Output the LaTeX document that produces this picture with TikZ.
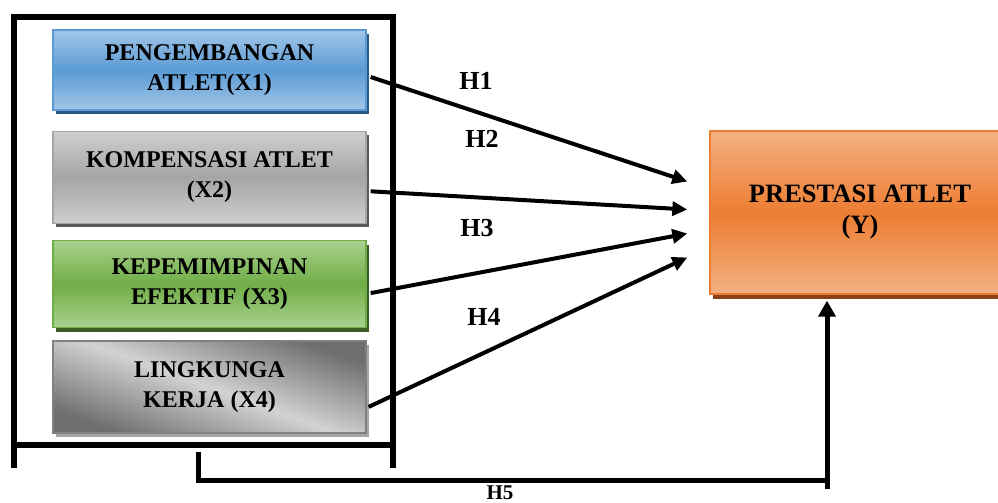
\documentclass[tikz,border=0pt]{standalone}
\usepackage{fontspec}
\setmainfont{Liberation Serif}
\usetikzlibrary{positioning,shadows,arrows.meta}

\definecolor{xonelight}{HTML}{A2C6E8}
\definecolor{xonemid}{HTML}{5B9BD5}
\definecolor{xoneshadow}{HTML}{2B5A86}
\definecolor{xtwolight}{HTML}{CFCFCF}
\definecolor{xtwomid}{HTML}{A5A5A5}
\definecolor{xtwoshadow}{HTML}{595959}
\definecolor{xthreelight}{HTML}{A9D18E}
\definecolor{xthreemid}{HTML}{70AD47}
\definecolor{xthreeshadow}{HTML}{3B5E25}
\definecolor{xfourdark}{HTML}{6E6E6E}
\definecolor{xfourlight}{HTML}{D2D2D2}
\definecolor{ylight}{HTML}{F4B183}
\definecolor{ymid}{HTML}{ED7D31}
\definecolor{yshadow}{HTML}{8A4216}

\begin{document}
\begin{tikzpicture}[x=1pt, y=-1pt,
node distance = 20pt,
var/.style={rectangle, line width=1.3pt, minimum width=313pt, inner sep=0pt, align=center, font=\fontsize{24}{30}\selectfont\bfseries},
result/.style={rectangle, line width=1.3pt, minimum width=300pt, minimum height=163pt, inner sep=0pt, align=center, font=\fontsize{26.5}{31}\selectfont\bfseries},
hyp/.style={inner sep=0pt, font=\fontsize{26}{26}\selectfont\bfseries},
frame/.style={line width=6pt},
path/.style={-{Triangle[length=15pt,width=14pt]}, line width=4pt},
back/.style={line width=5pt}]

\useasboundingbox (0,0) rectangle (998,503);

% independent variables
\node[var, minimum height=80pt, draw=xonemid, top color=xonelight, bottom color=xonelight, middle color=xonemid,
  drop shadow={shadow xshift=3pt, shadow yshift=-4pt, fill=xoneshadow, opacity=1}] (x1) at (209.5,70) {PENGEMBANGAN\\ATLET(X1)};
\node[var, minimum height=92pt, draw=xtwomid, top color=xtwolight, bottom color=xtwolight, middle color=xtwomid,
  drop shadow={shadow xshift=3pt, shadow yshift=-4pt, fill=xtwoshadow, opacity=1}] (x2) [below = 20pt of x1] {KOMPENSASI ATLET\\(X2)};
\node[var, minimum height=87pt, draw=xthreemid, top color=xthreelight, bottom color=xthreelight, middle color=xthreemid,
  drop shadow={shadow xshift=3pt, shadow yshift=-4pt, fill=xthreeshadow, opacity=1}] (x3) [below = 16pt of x2] {KEPEMIMPINAN\\EFEKTIF (X3)};
\node[var, minimum height=92pt, draw=gray, top color=xfourdark, bottom color=xfourdark, middle color=xfourlight, shading angle=-20,
  drop shadow={shadow xshift=3pt, shadow yshift=-4pt, fill=gray!70, opacity=1}] (x4) [below = 12pt of x3] {LINGKUNGA\\KERJA (X4)};

% dependent variable
\node[result, draw=ymid, top color=ylight, bottom color=ylight, middle color=ymid,
  drop shadow={shadow xshift=3pt, shadow yshift=-5pt, fill=yshadow, opacity=1}] (y) at (860,212.5) {PRESTASI ATLET\\(Y)};

% frame
\draw[frame] (14,468) -- (14,17) -- (393,17) -- (393,468);
\draw[frame] (14,445) -- (393,445);

% hypotheses
\draw[path] ([xshift=4pt, yshift=-7pt]x1.east) -- ([xshift=-22pt, yshift=31pt]y.west);
\draw[path] ([xshift=4pt, yshift=-14pt]x2.east) -- ([xshift=-22pt, yshift=3pt]y.west);
\draw[path] ([xshift=4pt, yshift=-9pt]x3.east) -- ([xshift=-22pt, yshift=-21pt]y.west);
\draw[path] ([xshift=2pt, yshift=-20pt]x4.east) -- ([xshift=-22pt, yshift=-45pt]y.west);

\coordinate (h5start) at (198,452);
\coordinate (h5end) at (827,489);
\draw[back] (h5start) |- (827,480);
\draw[path, line width=5pt, -{Triangle[length=16pt,width=17pt]}] (h5end) -- ([yshift=-6pt]h5end |- y.south);

\node[hyp] (h1) at (476,81) {H1};
\node[hyp] (h2) at (482,139) {H2};
\node[hyp] (h3) at (477,228) {H3};
\node[hyp] (h4) at (484,317) {H4};
\node[hyp, font=\fontsize{21}{21}\selectfont\bfseries] (h5) at (500,493) {H5};
\end{tikzpicture}
\end{document}
